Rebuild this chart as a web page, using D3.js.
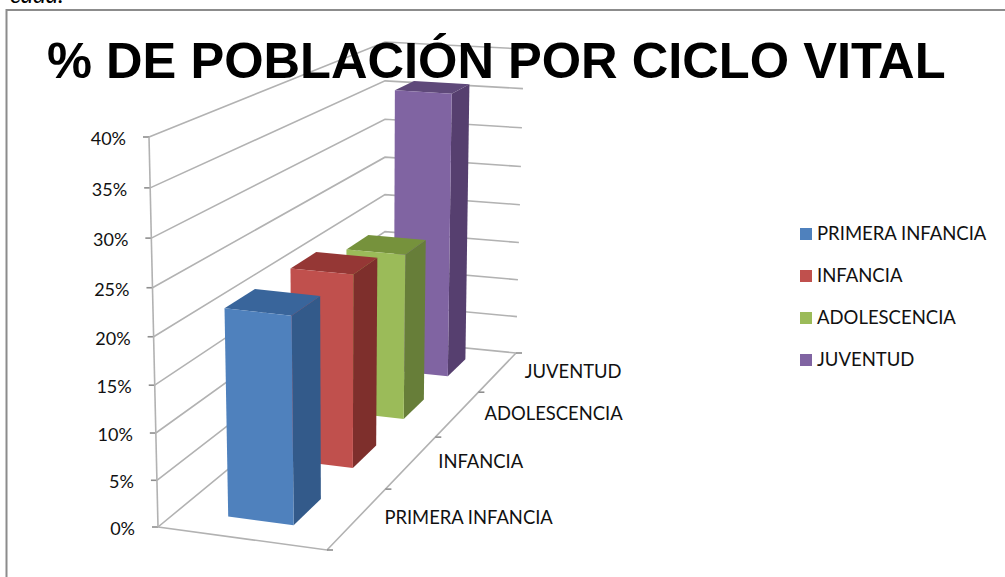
<!DOCTYPE html>
<html><head><meta charset="utf-8">
<script src="https://cdn.jsdelivr.net/npm/d3@7"></script>
<style>html,body{margin:0;padding:0;background:#fff}svg{display:block}</style></head>
<body><div id="chart"></div>
<script>
const categories = ["PRIMERA INFANCIA","INFANCIA","ADOLESCENCIA","JUVENTUD"];
const values = [0.222,0.22,0.20,0.36];
const valueTicks = [0,0.05,0.10,0.15,0.20,0.25,0.30,0.35,0.40];
const frontColors = ["#4F81BD","#C0504D","#9BBB59","#8064A2"];
const sideColors = ["#335A8A","#7E2F2C","#677E39","#563F6F"];
const topColors = ["#39659B","#953735","#76923C","#5F497A"];
const titleText = "% DE POBLACIÓN POR CICLO VITAL";

const W=1005,H=577;
const svg=d3.select("#chart").append("svg").attr("width",W).attr("height",H);

const floorCorners=[[158,527],[327,550],[516,353],[385,340]];
const ceilCorners=[[149,137],[326,155],[524,49],[385,42]];
function homography(p){
  const [[x0,y0],[x1,y1],[x2,y2],[x3,y3]]=p;
  const dx1=x1-x2,dx2=x3-x2,dx3=x0-x1+x2-x3,dy1=y1-y2,dy2=y3-y2,dy3=y0-y1+y2-y3;
  const den=dx1*dy2-dx2*dy1;
  const g=(dx3*dy2-dx2*dy3)/den,h=(dx1*dy3-dx3*dy1)/den;
  const a=x1-x0+g*x1,b=x3-x0+h*x3,d=y1-y0+g*y1,e=y3-y0+h*y3;
  return (u,v)=>{const w=g*u+h*v+1;return [(a*u+b*v+x0)/w,(d*u+e*v+y0)/w];};
}
const hFloor=homography(floorCorners),hCeil=homography(ceilCorners);
const valueScale=d3.scaleLinear().domain([0,0.4]).range([0,1]);
const depthScale=d3.scaleBand().domain(categories).range([0,1]).paddingInner(0.56).paddingOuter(0.28);
function project(u,d,val){
  const f=valueScale(val), t=f/(f+1.05*(1-f));
  const b=hFloor(u,d),c=hCeil(u,d);
  return [b[0]+(c[0]-b[0])*t,b[1]+(c[1]-b[1])*t];
}
const line=d3.line();

svg.append("path").attr("d",line([[6.5,577],[6.5,10],[1005,10]])).attr("fill","none").attr("stroke","#8c8c8c").attr("stroke-width",2);
svg.append("text").attr("x",10).attr("y",3).attr("font-family","Lato").attr("font-size",24).attr("font-style","italic").attr("fill","#000").text("cada.");

const grid="#b2b2b2";
const g=svg.append("g").attr("fill","none").attr("stroke",grid).attr("stroke-width",1.6);
valueTicks.forEach(v=>{
  g.append("path").attr("d",line([project(0,0,v),project(0,1,v),project(1,1,v)]));
  const p=project(0,0,v);
  g.append("path").attr("d",line([[p[0]-6,p[1]],p])).attr("stroke","#8e8e8e").attr("stroke-width",1.6);
});
g.append("path").attr("d",line([project(0,0,0),project(0,0,0.4)]));
g.append("path").attr("d",line([project(0,0,0),project(1,0,0),project(1,1,0)]));
d3.range(0,5).forEach(i=>{
  const p=project(1,i/4,0);
  g.append("path").attr("d",line([p,[p[0]+6,p[1]]])).attr("stroke","#8e8e8e").attr("stroke-width",1.6);
});

const uA=0.305,uB=0.70;
const bars=svg.append("g");
d3.range(categories.length).reverse().forEach(i=>{
  const c=categories[i],v=values[i];
  const d0=depthScale(c),d1=d0+depthScale.bandwidth();
  bars.append("path").attr("d",line([project(uB,d0,0),project(uB,d1,0),project(uB,d1,v),project(uB,d0,v)])+"Z").attr("fill",sideColors[i]);
  bars.append("path").attr("d",line([project(uA,d0,v),project(uB,d0,v),project(uB,d1,v),project(uA,d1,v)])+"Z").attr("fill",topColors[i]);
  bars.append("path").attr("d",line([project(uA,d0,0),project(uB,d0,0),project(uB,d0,v),project(uA,d0,v)])+"Z").attr("fill",frontColors[i]);
});

const lab=svg.append("g").attr("font-family","Lato").attr("font-size",18).attr("fill","#111");
valueTicks.forEach(v=>{
  const p=project(0,0,v);
  lab.append("text").attr("x",p[0]-23).attr("y",p[1]+8).attr("text-anchor","end").text(d3.format(".0%")(v));
});
categories.forEach((c,i)=>{
  const p=project(1,(i+0.5)/4,0);
  lab.append("text").attr("x",p[0]+27).attr("y",p[1]+6).attr("font-size",18.4).text(c);
});

const legendY=d3.scalePoint().domain(categories).range([234,360]);
const leg=svg.append("g").attr("font-family","Lato").attr("font-size",18.5).attr("fill","#111");
categories.forEach((c,i)=>{
  leg.append("rect").attr("x",800).attr("y",legendY(c)-6).attr("width",12).attr("height",12).attr("fill",frontColors[i]);
  leg.append("text").attr("x",817).attr("y",legendY(c)+6).text(c);
});

svg.append("text").attr("x",47).attr("y",78).attr("font-family","Liberation Sans").attr("font-weight",700).attr("font-size",50.6).attr("fill","#000").text(titleText);
</script></body></html>
